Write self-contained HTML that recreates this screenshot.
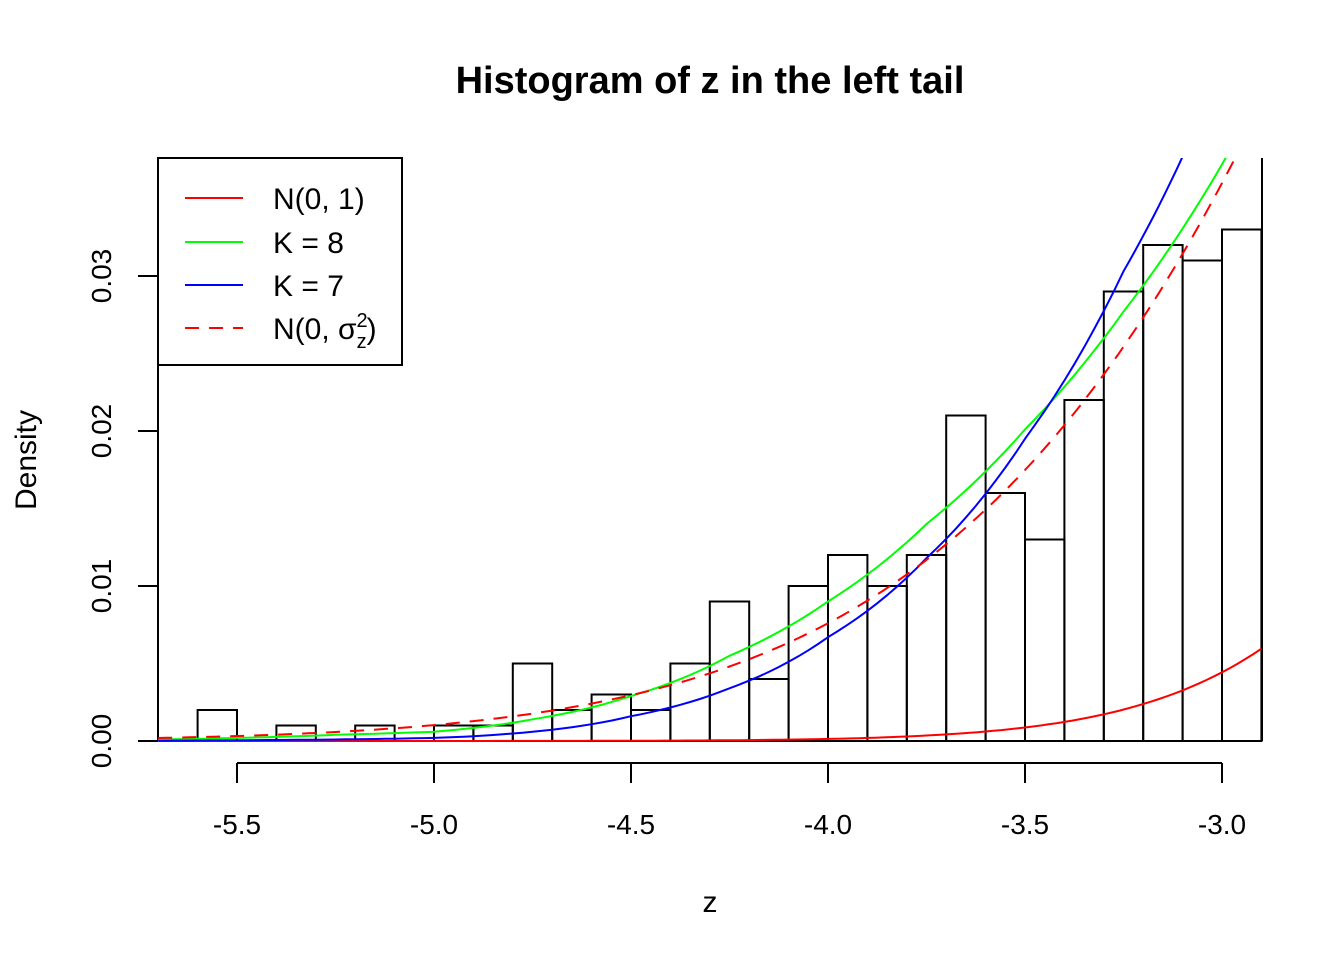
<!DOCTYPE html>
<html><head><meta charset="utf-8"><style>
body{margin:0;background:#fff}
text{font-family:"Liberation Sans",Arial,sans-serif}
</style></head><body>
<svg id="chart" width="1344" height="960" xmlns="http://www.w3.org/2000/svg">
<defs><clipPath id="clip"><rect x="158" y="158" width="1104" height="600"/></clipPath></defs>
<text x="710" y="93" font-size="38" font-weight="bold" text-anchor="middle">Histogram of z in the left tail</text>
<text x="710" y="912" font-size="30" text-anchor="middle">z</text>
<text transform="translate(36,460) rotate(-90)" font-size="30" text-anchor="middle">Density</text>
<g id="bars"></g><g id="axes"></g><g id="curves" clip-path="url(#clip)"></g><g id="legend"></g>
</svg>
<script>
const binStart = -5.7, binWidth = 0.1;
const densities = [0,0.002,0,0.001,0,0.001,0,0.001,0.001,0.005,0.002,0.003,0.002,0.005,0.009,0.004,0.010,0.012,0.010,0.012,0.021,0.016,0.013,0.022,0.029,0.032,0.031,0.033];
const xTicks = [-5.5,-5.0,-4.5,-4.0,-3.5,-3.0];
const xTickLabels = ["-5.5","-5.0","-4.5","-4.0","-3.5","-3.0"];
const yTicks = [0,0.01,0.02,0.03];
const yTickLabels = ["0.00","0.01","0.02","0.03"];
const k8X = [-5.7,-5.5,-5.25,-5.0,-4.75,-4.5,-4.25,-4.0,-3.75,-3.5,-3.25,-3.0,-2.9];
const k8Y = [0.0001,0.0002,0.0004,0.0006,0.0014,0.0029,0.0055,0.0090,0.0140,0.0201,0.0277,0.0372,0.042];
const k7X = [-5.7,-5.5,-5.25,-5.0,-4.75,-4.5,-4.25,-4.0,-3.75,-3.5,-3.25,-3.1,-3.0];
const k7Y = [0.00002,0.00005,0.0001,0.0002,0.0006,0.0016,0.0034,0.0067,0.0118,0.0195,0.0303,0.0377,0.044];
const sigmaZ = 1.5;
const NS="http://www.w3.org/2000/svg";
const X=v=>237+(v+5.5)*394, Y=v=>741-v*15500;
function mk(tag,attrs,parent){const e=document.createElementNS(NS,tag);for(const k in attrs)e.setAttribute(k,attrs[k]);parent.appendChild(e);return e;}
const bars=document.getElementById('bars'),axes=document.getElementById('axes'),curves=document.getElementById('curves'),legend=document.getElementById('legend');
densities.forEach((d,i)=>{const x0=X(binStart+i*binWidth),x1=X(binStart+(i+1)*binWidth);
const r=mk('rect',{x:x0,y:Y(d),width:x1-x0,height:Y(0)-Y(d),fill:'none',stroke:'#000','stroke-width':2},bars);

});
let l=mk('line',{x1:1262,y1:158,x2:1262,y2:741,stroke:'#000','stroke-width':2},axes);

l=mk('line',{x1:X(xTicks[0]),y1:763,x2:X(xTicks[xTicks.length-1]),y2:763,stroke:'#000','stroke-width':2},axes);

xTicks.forEach((t,i)=>{mk('line',{x1:X(t),y1:763,x2:X(t),y2:783,stroke:'#000','stroke-width':2},axes);
const tx=mk('text',{x:X(t),y:834,'font-size':28,'text-anchor':'middle'},axes);tx.textContent=xTickLabels[i];
});
l=mk('line',{x1:158,y1:158,x2:158,y2:741,stroke:'#000','stroke-width':2},axes);

yTicks.forEach((t,i)=>{mk('line',{x1:138,y1:Y(t),x2:158,y2:Y(t),stroke:'#000','stroke-width':2},axes);
const tx=mk('text',{transform:`translate(111,${Y(t)}) rotate(-90)`,'font-size':28,'text-anchor':'middle'},axes);tx.textContent=yTickLabels[i];
});
function pathFrom(xs,ys){return xs.map((x,i)=>(i?'L':'M')+X(x).toFixed(1)+','+Y(ys[i]).toFixed(1)).join(' ');}
function smooth(xs,ys){const px=[],py=[];for(let i=0;i<xs.length-1;i++){for(let s=0;s<10;s++){const t=s/10;
const x=xs[i]+(xs[i+1]-xs[i])*t;const ly=Math.log(ys[i])+(Math.log(ys[i+1])-Math.log(ys[i]))*t;px.push(x);py.push(Math.exp(ly));}}
px.push(xs[xs.length-1]);py.push(ys[ys.length-1]);return pathFrom(px,py);}
const gx=[],gy=[],ny=[];
for(let v=-5.7;v<=-2.899;v+=0.02){gx.push(v);gy.push(Math.exp(-v*v/2)/Math.sqrt(2*Math.PI));
ny.push(Math.exp(-v*v/(2*sigmaZ*sigmaZ))/(sigmaZ*Math.sqrt(2*Math.PI)));}
let p=mk('path',{d:pathFrom(gx,gy),fill:'none',stroke:'#ff0000','stroke-width':2},curves);

p=mk('path',{d:smooth(k8X,k8Y),fill:'none',stroke:'#00ff00','stroke-width':2},curves);

p=mk('path',{d:smooth(k7X,k7Y),fill:'none',stroke:'#0000ff','stroke-width':2},curves);

p=mk('path',{d:pathFrom(gx,ny),fill:'none',stroke:'#ff0000','stroke-width':2,'stroke-dasharray':'14,10'},curves);

const lb=mk('rect',{x:158,y:158,width:244,height:207,fill:'#fff',stroke:'#000','stroke-width':2},legend);

const entries=[['#ff0000','',198,'N(0, 1)'],['#00ff00','',242,'K = 8'],['#0000ff','',285,'K = 7'],['#ff0000','14,10',328,null]];
entries.forEach(e=>{const g=mk('g',{},legend);
const a={x1:185,y1:e[2],x2:243,y2:e[2],stroke:e[0],'stroke-width':2};if(e[1])a['stroke-dasharray']=e[1];mk('line',a,g);
const t=mk('text',{x:273,y:e[2]+11,'font-size':30},g);
if(e[3])t.textContent=e[3];else t.innerHTML='N(0, σ<tspan font-size="20" dy="-12">2</tspan><tspan font-size="20" dx="-11" dy="21">z</tspan><tspan dy="-9">)</tspan>';});
</script>
</body></html>
